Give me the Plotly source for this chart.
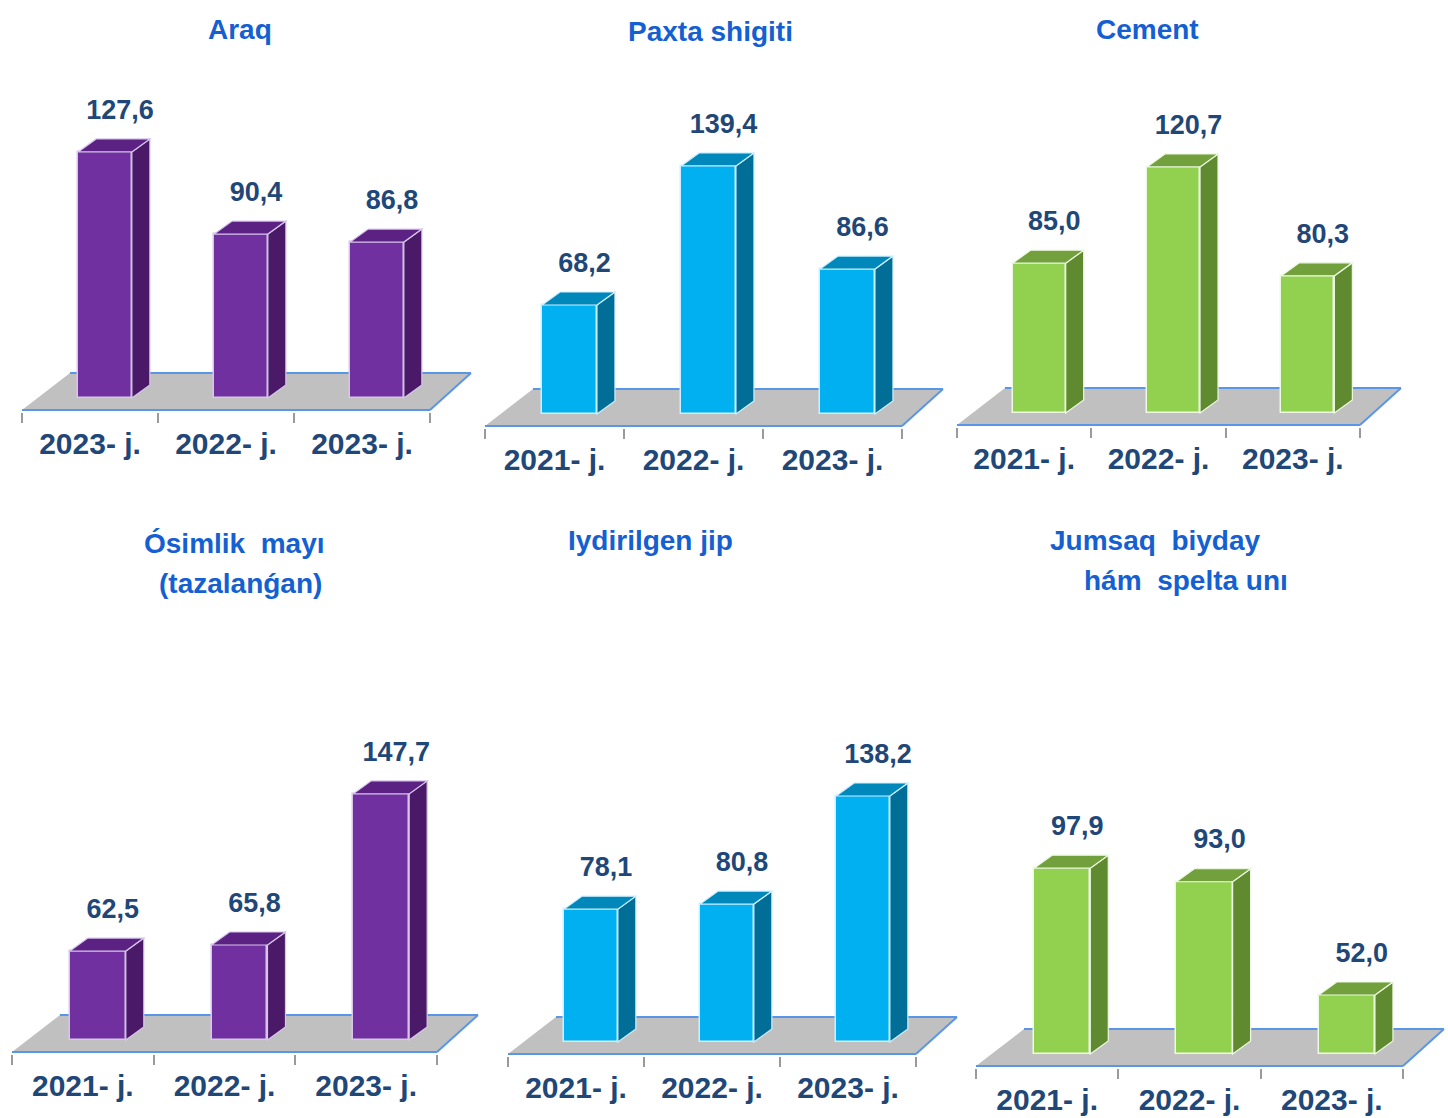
import plotly.graph_objects as go

# ---------------- data ----------------
titles = [
    ["Araq"],
    ["Paxta shigiti"],
    ["Cement"],
    ["Ósimlik\u00a0 mayı", "(tazalanǵan)"],
    ["Iydirilgen jip"],
    ["Jumsaq\u00a0 biyday", "hám\u00a0 spelta unı"],
]
years_araq = ["2023- j.", "2022- j.", "2023- j."]
years = ["2021- j.", "2022- j.", "2023- j."]
araq = [127.6, 90.4, 86.8]
paxta = [68.2, 139.4, 86.6]
cement = [85.0, 120.7, 80.3]
osimlik = [62.5, 65.8, 147.7]
jip = [78.1, 80.8, 138.2]
biyday = [97.9, 93.0, 52.0]

series = [araq, paxta, cement, osimlik, jip, biyday]
cats = [years_araq, years, years, years, years, years]

# ---------------- style ----------------
PAL = {
    "purple": dict(front="#7030A0", side="#4A1A68", top="#5B2183", edge="#D8C6EA"),
    "cyan": dict(front="#00B0F0", side="#006E96", top="#0088BA", edge="#CDEFFF"),
    "green": dict(front="#92D050", side="#5F8A30", top="#71A03C", edge="#EEF8E2"),
}
# panel geometry in page pixels (front-left tick, front-right tick, floor front edge),
# axis baseline value and pixels per unit
panels = [
    dict(L=22, R=430, Yf=410, base=16.2, a=2.209, col="purple",
         tpos=[(240, 30)]),
    dict(L=485, R=902, Yf=426, base=12.4, a=1.953, col="cyan",
         tpos=[(710, 31)]),
    dict(L=957, R=1360, Yf=425, base=29.4, a=2.695, col="green",
         tpos=[(1147, 30)]),
    dict(L=12, R=437, Yf=1052, base=14.3, a=1.845, col="purple",
         tpos=[(235, 543), (240, 583)]),
    dict(L=508, R=916, Yf=1054, base=7.5, a=1.882, col="cyan",
         tpos=[(650, 540)]),
    dict(L=976, R=1403, Yf=1066, base=30.65, a=2.763, col="green",
         tpos=[(1155, 540), (1186, 580)]),
]

W, H = 1448, 1118
OFF = 0
FONT = "Liberation Sans, Arial, sans-serif"
TITLE_COL = "#1460D2"
TXT_COL = "#1F4778"
BLUE_LINE = "#5A96E8"

FLOOR_DXL, FLOOR_DXR, FLOOR_DY = 48, 41, 37
BAR_SHIFT_X, BAR_LIFT = 15, 12
SIDE_DX, SIDE_DY = 18, 13
BAR_FRAC = 0.395
LABEL_DX, LABEL_DY = 15, 40


def pxp(x):
    return (x - OFF) / W


def pyp(y):
    return 1 - (y - OFF) / H


fig = go.Figure()
shapes = []
annotations = []
layout_axes = {}

for k, p in enumerate(panels):
    n = k + 1
    xa = "x" if n == 1 else f"x{n}"
    ya = "y" if n == 1 else f"y{n}"
    L, R, Yf, a, base = p["L"], p["R"], p["Yf"], p["a"], p["base"]
    pal = PAL[p["col"]]
    pxu = (R - L) / 3.0
    Yb = Yf - BAR_LIFT

    def xd(v, L=L, pxu=pxu):
        return -0.5 + (v - L) / pxu

    def yd(v, Yb=Yb, a=a, base=base):
        return base + (Yb - v) / a

    dom_l = L - 4
    dom_r = min(R + FLOOR_DXR + 8, OFF + W)
    dom_b = Yf + 1.5
    dom_t = Yf - 345

    vals = series[k]
    xs = [i + BAR_SHIFT_X / pxu for i in range(len(vals))]

    fig.add_trace(go.Bar(
        x=xs, y=[v - base for v in vals], base=base, width=BAR_FRAC,
        marker=dict(color=pal["front"], line=dict(color=pal["edge"], width=1.5)),
        xaxis=xa, yaxis=ya, showlegend=False, hoverinfo="skip",
    ))
    fig.add_trace(go.Scatter(
        x=[x + LABEL_DX / pxu for x in xs], y=[v + LABEL_DY / a for v in vals],
        text=[f"{v:.1f}".replace(".", ",") for v in vals], mode="text",
        textposition="middle center", cliponaxis=False,
        textfont=dict(family=FONT, size=27, color=TXT_COL, weight="bold"),
        xaxis=xa, yaxis=ya, showlegend=False, hoverinfo="skip",
    ))

    # floor
    yF = yd(Yf)
    yB = yd(Yf - FLOOR_DY)
    fdl = FLOOR_DXL / pxu
    fdr = FLOOR_DXR / pxu
    shapes.append(dict(type="path", xref=xa, yref=ya, layer="below",
                       path=f"M -0.5,{yF} L 2.5,{yF} L {2.5 + fdr},{yB} L {-0.5 + fdl},{yB} Z",
                       fillcolor="#C0C0C0", line=dict(width=0)))
    for (x0, y0, x1, y1) in [(-0.5, yF, 2.5, yF), (2.5, yF, 2.5 + fdr, yB),
                             (-0.5 + fdl, yB, 2.5 + fdr, yB)]:
        shapes.append(dict(type="line", xref=xa, yref=ya, layer="below",
                           x0=x0, y0=y0, x1=x1, y1=y1,
                           line=dict(color=BLUE_LINE, width=2)))

    # 3D side & top faces
    sdx = SIDE_DX / pxu
    sdy = SIDE_DY / a
    for x, v in zip(xs, vals):
        xl = x - BAR_FRAC / 2
        xr = x + BAR_FRAC / 2
        shapes.append(dict(type="path", xref=xa, yref=ya, layer="above",
                           path=f"M {xr},{base} L {xr + sdx},{base + sdy} L {xr + sdx},{v + sdy} L {xr},{v} Z",
                           fillcolor=pal["side"], line=dict(color=pal["edge"], width=1.2)))
        shapes.append(dict(type="path", xref=xa, yref=ya, layer="above",
                           path=f"M {xl},{v} L {xr},{v} L {xr + sdx},{v + sdy} L {xl + sdx},{v + sdy} Z",
                           fillcolor=pal["top"], line=dict(color=pal["edge"], width=1.2)))

    layout_axes["xaxis" if n == 1 else f"xaxis{n}"] = dict(
        domain=[pxp(dom_l), pxp(dom_r)], range=[xd(dom_l), xd(dom_r)],
        anchor=ya, showgrid=False, zeroline=False, showline=False,
        tickmode="array", tickvals=[0, 1, 2], ticktext=cats[k], ticks="",
        ticklabelstandoff=11,
        tickfont=dict(family=FONT, size=30, color=TXT_COL, weight="bold"),
        minor=dict(tickmode="array", tickvals=[-0.5, 0.5, 1.5, 2.5], ticks="outside",
                   ticklen=10, tickwidth=1.5, tickcolor="#9A9A9A", showgrid=False),
        fixedrange=True,
    )
    layout_axes["yaxis" if n == 1 else f"yaxis{n}"] = dict(
        domain=[pyp(dom_b), pyp(dom_t)], range=[yd(dom_b), yd(dom_t)],
        anchor=xa, visible=False, fixedrange=True,
    )

    for line_text, (tx, ty) in zip(titles[k], p["tpos"]):
        annotations.append(dict(
            text=line_text, x=pxp(tx), y=pyp(ty), xref="paper", yref="paper",
            xanchor="center", yanchor="middle", showarrow=False,
            font=dict(family=FONT, size=28, color=TITLE_COL, weight="bold"),
        ))

fig.update_layout(
    width=W, height=H, margin=dict(l=0, r=0, t=0, b=0),
    paper_bgcolor="white", plot_bgcolor="rgba(0,0,0,0)",
    shapes=shapes, annotations=annotations, showlegend=False,
    bargap=0, **layout_axes,
)

fig.write_html(
    "out.html",
    config={"displayModeBar": False},
    post_script="document.body.style.margin='0';document.documentElement.style.overflow='hidden';",
)
